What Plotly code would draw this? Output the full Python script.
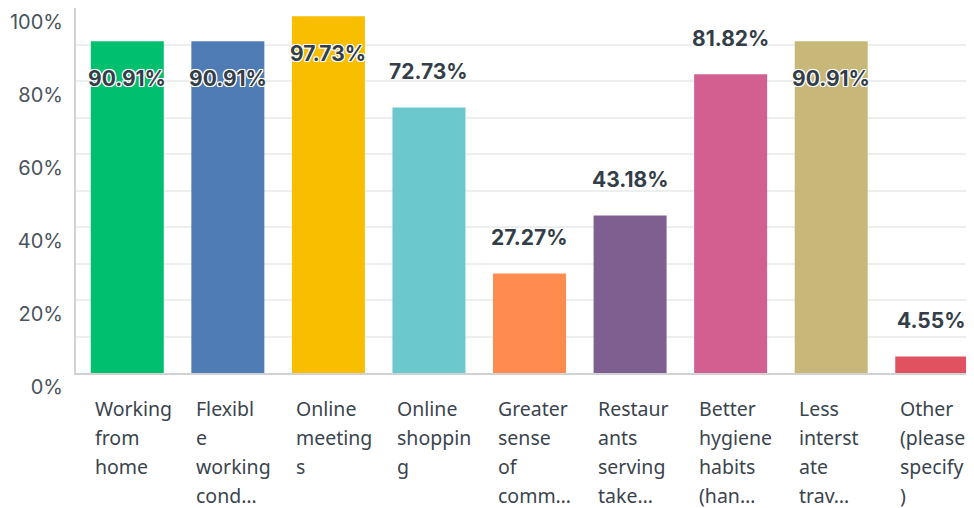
import plotly.graph_objects as go

categories = [
    "Working<br>from<br>home",
    "Flexibl<br>e<br>working<br>cond…",
    "Online<br>meeting<br>s",
    "Online<br>shoppin<br>g",
    "Greater<br>sense<br>of<br>comm…",
    "Restaur<br>ants<br>serving<br>take…",
    "Better<br>hygiene<br>habits<br>(han…",
    "Less<br>interst<br>ate<br>trav…",
    "Other<br>(please<br>specify<br>)",
]
values = [90.91, 90.91, 97.73, 72.73, 27.27, 43.18, 81.82, 90.91, 4.55]
colors = ["#00BF6F", "#507CB6", "#F9BE00", "#6BC8CD", "#FF8B4F",
          "#7F5F90", "#D25F90", "#C7B879", "#E05260"]
y_tickvals = [0, 20, 40, 60, 80, 100]
y_ticktext = ["0%", "20%", "40%", "60%", "80%", "100%"]

TEXT = "#333E48"
fig = go.Figure()
fig.add_trace(go.Bar(
    x=categories, y=values, marker=dict(color=colors, line=dict(width=0)),
    hoverinfo="skip", showlegend=False,
))

outline = "-1px -1px 0 #fff, 1px -1px 0 #fff, -1px 1px 0 #fff, 1px 1px 0 #fff, 0 1px 0 #fff, 0 -1px 0 #fff, 1px 0 0 #fff, -1px 0 0 #fff"
annotations = []
for cat, v in zip(categories, values):
    inside = v > 85
    annotations.append(dict(
        x=cat, y=v, xref="x", yref="y", text=f"{v:.2f}%", showarrow=False,
        yanchor="middle", yshift=-37 if inside else 36,
        font=dict(family="Inter", size=21, color=TEXT, weight="bold", shadow=outline),
    ))
    for i, line in enumerate(cat.split("<br>")):
        annotations.append(dict(
            x=cat, y=0, xref="x", yref="paper", text=line, showarrow=False,
            xanchor="left", yanchor="middle", xshift=-34, yshift=-35 - 29 * i,
            font=dict(family="Noto Sans", size=19.5, color="#3A444D"),
        ))

fig.update_layout(
    width=966, height=500, autosize=False,
    margin=dict(l=68, r=0, t=0, b=135),
    paper_bgcolor="white", plot_bgcolor="white",
    bargap=0.274,
    annotations=annotations,
    xaxis=dict(
        range=[-0.51, 8.42], showticklabels=False, ticks="",
        showline=True, linecolor="#D0D2D3", linewidth=2, showgrid=False, zeroline=False,
        fixedrange=True,
    ),
    yaxis=dict(
        range=[0, 100], tickvals=y_tickvals, ticktext=y_ticktext,
        ticklabelposition="outside bottom", ticklabelstandoff=7,
        tickfont=dict(family="Inter", size=20, color="#4A545C"),
        showline=True, linecolor="#D0D2D3", linewidth=2,
        showgrid=True, gridcolor="#EDEEEE", gridwidth=2, zeroline=False,
        minor=dict(dtick=10, showgrid=True, gridcolor="#EDEEEE", gridwidth=2),
        ticks="",
    ),
)

fig.write_html("out.html")
